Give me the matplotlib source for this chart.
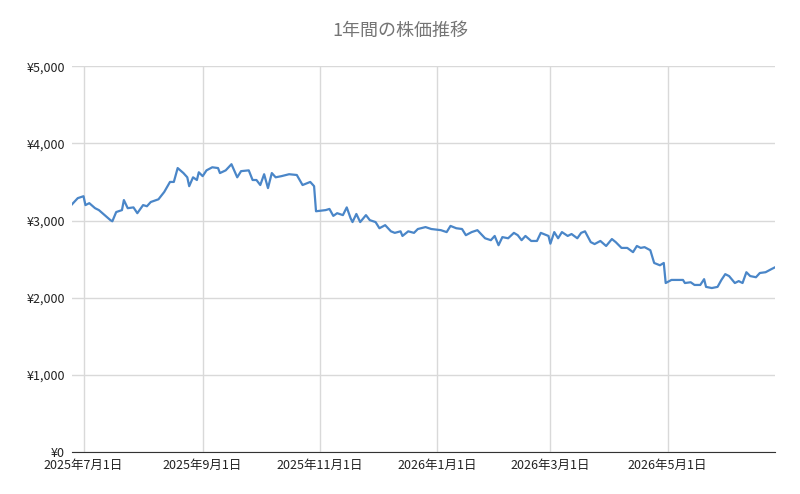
import pandas as pd
import matplotlib.pyplot as plt
import matplotlib.dates as mdates
from matplotlib.ticker import FuncFormatter

plt.rcParams['font.family'] = ['Noto Sans CJK JP', 'DejaVu Sans']

# days after 2025-07-01 and closing price (yen)
day_offsets = [-6, -3, 0, 1, 3, 6, 8, 11, 14, 15, 17, 20, 21, 23, 26, 28, 31, 33, 35, 39,
               42, 45, 47, 49, 52, 54, 55, 57, 59, 60, 62, 64, 67, 70, 71, 74, 77, 80, 82, 86,
               88, 90, 92, 94, 96, 98, 100, 103, 107, 111, 114, 118, 120, 121, 126, 128, 130, 132, 135, 137,
               139, 140, 142, 144, 147, 149, 152, 154, 157, 160, 162, 165, 166, 169, 172, 174, 178, 181, 186, 189,
               191, 194, 197, 199, 202, 205, 209, 212, 214, 216, 218, 221, 224, 226, 228, 230, 233, 236, 238, 242,
               243, 245, 247, 249, 252, 254, 257, 259, 261, 264, 266, 269, 272, 275, 277, 280, 283, 286, 288, 290,
               292, 295, 297, 300, 302, 303, 306, 309, 312, 313, 316, 318, 321, 323, 324, 327, 330, 332, 334, 336,
               339, 341, 343, 345, 347, 350, 352, 355, 358, 360]
prices = [3210, 3290, 3315, 3200, 3225, 3160, 3135, 3070, 3005, 2990, 3110, 3135, 3265, 3160, 3170, 3095, 3200, 3185, 3240, 3275,
          3370, 3500, 3500, 3680, 3615, 3560, 3445, 3560, 3525, 3625, 3575, 3650, 3690, 3680, 3615, 3650, 3730, 3560, 3640, 3650,
          3525, 3525, 3460, 3600, 3420, 3615, 3560, 3575, 3600, 3590, 3460, 3500, 3445, 3120, 3135, 3150, 3060, 3095, 3070, 3170,
          3030, 2980, 3085, 2980, 3070, 3005, 2980, 2900, 2940, 2860, 2840, 2860, 2800, 2860, 2840, 2890, 2915, 2890, 2875, 2850,
          2930, 2900, 2890, 2810, 2850, 2875, 2770, 2745, 2800, 2680, 2785, 2770, 2840, 2810, 2745, 2800, 2735, 2735, 2840, 2800,
          2700, 2850, 2770, 2850, 2800, 2825, 2770, 2840, 2860, 2720, 2695, 2735, 2670, 2760, 2720, 2645, 2645, 2590, 2670, 2645,
          2655, 2615, 2450, 2420, 2450, 2190, 2230, 2230, 2230, 2190, 2200, 2165, 2165, 2240, 2140, 2125, 2140, 2230, 2305, 2280,
          2190, 2215, 2190, 2330, 2280, 2265, 2320, 2330, 2370, 2395]

base = pd.Timestamp('2025-07-01')
dates = [base + pd.Timedelta(days=d) for d in day_offsets]
tick_dates = pd.to_datetime(['2025-07-01', '2025-09-01', '2025-11-01', '2026-01-01', '2026-03-01', '2026-05-01'])
tick_labels = ['2025年7月1日', '2025年9月1日', '2025年11月1日', '2026年1月1日', '2026年3月1日', '2026年5月1日']

fig = plt.figure(figsize=(8, 4.94), dpi=100)
ax = fig.add_axes([0.09, 0.085, 0.879, 0.781])
ax.plot(dates, prices, color='#4a86c8', linewidth=1.6)

ax.set_xlim(dates[0], dates[-1])
ax.set_ylim(0, 5000)
ax.set_yticks(range(0, 5001, 1000))
ax.yaxis.set_major_formatter(FuncFormatter(lambda v, p: f'¥{int(v):,}'))
ax.set_xticks(tick_dates)
ax.set_xticklabels(tick_labels)
ax.grid(True, color='#d9d9d9', linewidth=1)
ax.set_axisbelow(True)
for s in ['top', 'right', 'left']:
    ax.spines[s].set_visible(False)
ax.spines['bottom'].set_color('#333333')
ax.tick_params(length=0, labelsize=9, colors='#222222', pad=5)

fig.suptitle('1年間の株価推移', y=0.955, fontsize=13, color='#757575')
fig.savefig('out.png')
